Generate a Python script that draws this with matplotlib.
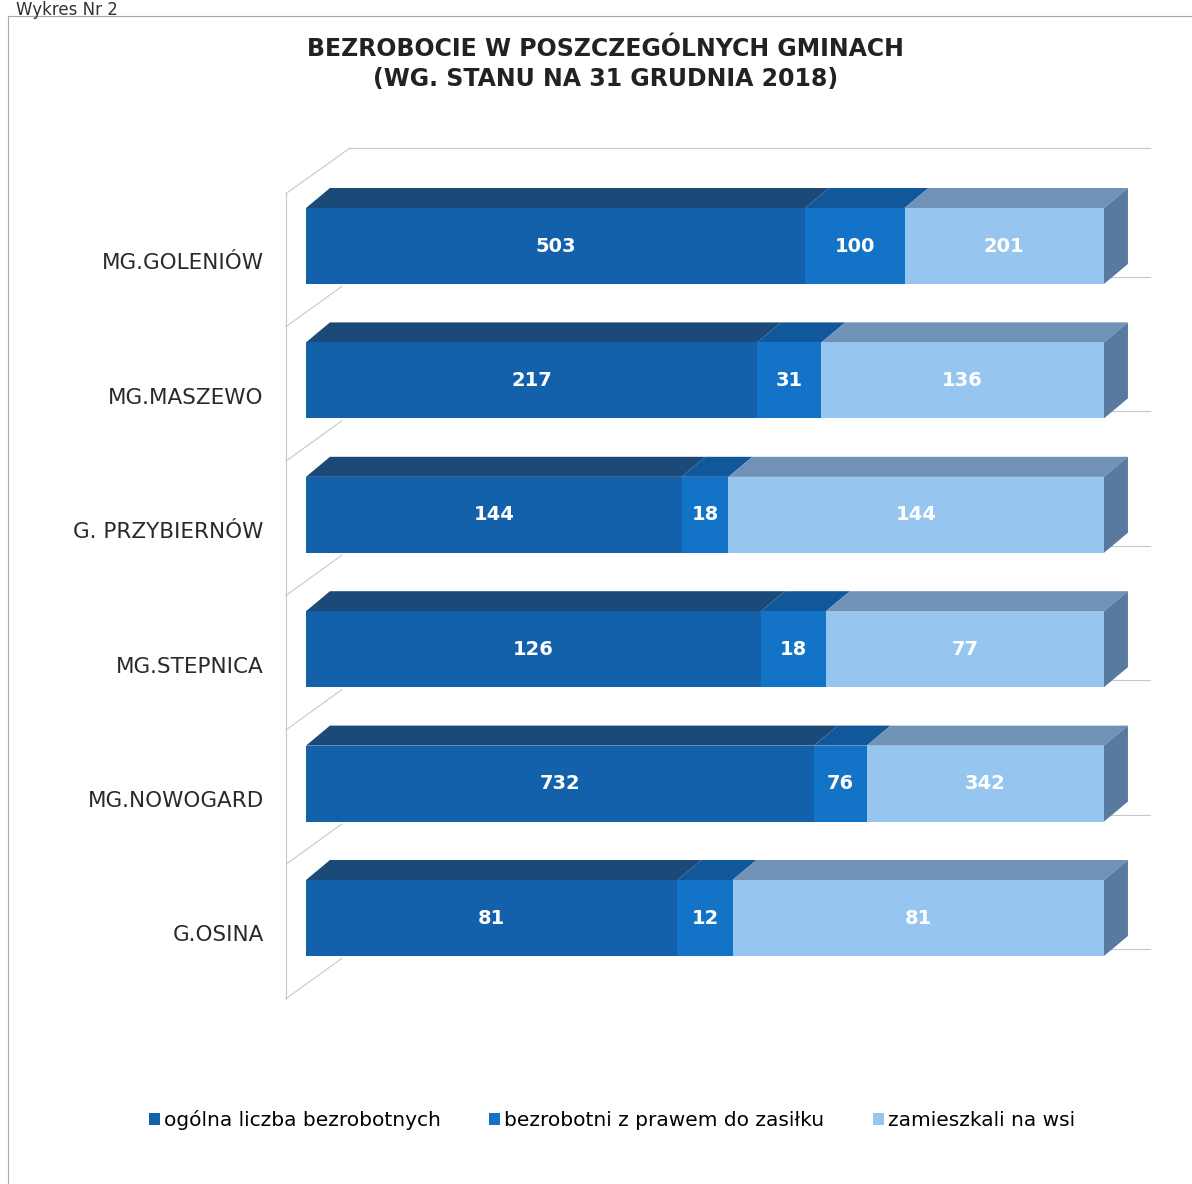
import numpy as np
import matplotlib.pyplot as plt
from matplotlib.patches import Polygon, Patch
from matplotlib.lines import Line2D

# dane
gminy = ['MG.GOLENIÓW', 'MG.MASZEWO', 'G. PRZYBIERNÓW', 'MG.STEPNICA', 'MG.NOWOGARD', 'G.OSINA']
ogolna = np.array([503, 217, 144, 126, 732, 81])
zasilek = np.array([100, 31, 18, 18, 76, 12])
wies = np.array([201, 136, 144, 77, 342, 81])
serie = ['ogólna liczba bezrobotnych', 'bezrobotni z prawem do zasiłku', 'zamieszkali na wsi']

front_cols = ['#1461ab', '#1273c7', '#96c6ef']
top_cols = ['#1c4a78', '#11589a', '#7092b6']
side_col = '#587a9f'

W, H = 1192, 1184
fig = plt.figure(figsize=(W / 100, H / 100), dpi=100)
ax = fig.add_axes([280 / W, 1 - 1010 / H, 880 / W, 870 / H])
ax.set_xlim(-26 / 798, 854 / 798)
ax.set_ylim(764 / 134.4, -106 / 134.4)
ax.axis('off')

h = 0.565   # wysokosc slupka
dx = 0.030  # glebokosc 3D
dy = 0.149

y = np.arange(len(gminy))
suma = ogolna + zasilek + wies
udzialy = [ogolna / suma, zasilek / suma, wies / suma]
wartosci = [ogolna, zasilek, wies]

# sciany wykresu (szare linie)
grey = '#c8c8c8'
ax.plot([0.055, 1.058], [-0.729, -0.729], color=grey, lw=0.8, zorder=0)
ax.plot([-0.025, 0.055], [-0.39, -0.729], color=grey, lw=0.8, zorder=0)
ax.plot([-0.025, -0.025], [-0.39, 5.6], color=grey, lw=0.8, zorder=0)
for i in y:
    ax.plot([1.0, 1.058], [i + 0.23, i + 0.23], color=grey, lw=0.8, zorder=0)
    ax.plot([-0.025, 0.045], [i + 0.6, i + 0.3], color=grey, lw=0.8, zorder=0)

left = np.zeros(len(gminy))
for k in range(3):
    ax.barh(y, udzialy[k], left=left, height=h, color=front_cols[k], zorder=3)
    for i in y:
        l = left[i]
        r = left[i] + udzialy[k][i]
        top = i - h / 2
        ax.add_patch(Polygon([(l, top), (l + dx, top - dy), (r + dx, top - dy), (r, top)],
                             closed=True, facecolor=top_cols[k], edgecolor='none', zorder=2))
        ax.text((l + r) / 2, i, str(wartosci[k][i]), ha='center', va='center',
                color='white', fontsize=14, fontweight='bold', zorder=5)
    left = left + udzialy[k]

# boczna sciana
for i in y:
    top = i - h / 2
    ax.add_patch(Polygon([(1, top), (1 + dx, top - dy), (1 + dx, top + h - dy), (1, top + h)],
                         closed=True, facecolor=side_col, edgecolor='none', zorder=2))

# etykiety gmin
for i, g in enumerate(gminy):
    ax.text(-0.053, i + 0.13, g, ha='right', va='center', fontsize=15.5, color='#2a2a2a')

# tytul
fig.text(605 / W, 1 - 49 / H, 'BEZROBOCIE W POSZCZEGÓLNYCH GMINACH', ha='center', va='center',
         fontsize=17, fontweight='bold', color='#222222')
fig.text(606 / W, 1 - 79 / H, '(WG. STANU NA 31 GRUDNIA 2018)', ha='center', va='center',
         fontsize=17, fontweight='bold', color='#222222')

fig.text(16 / W, 1 - 1 / H, 'Wykres Nr 2', ha='left', va='top', fontsize=12, color='#333333')

# ramka
fig.add_artist(Line2D([8 / W, 8 / W], [0, 1 - 16 / H], color='#aaaaaa', lw=0.8))
fig.add_artist(Line2D([8 / W, 1], [1 - 16 / H, 1 - 16 / H], color='#aaaaaa', lw=0.8))

handles = [Patch(facecolor=c, edgecolor='none') for c in front_cols]
fig.legend(handles, serie, loc='center', bbox_to_anchor=(612 / W, 1 - 1120 / H), ncol=3,
           frameon=False, fontsize=14.5, handlelength=0.55, handleheight=0.55,
           handletextpad=0.2, columnspacing=2.4)

fig.savefig('out.png', dpi=100)
